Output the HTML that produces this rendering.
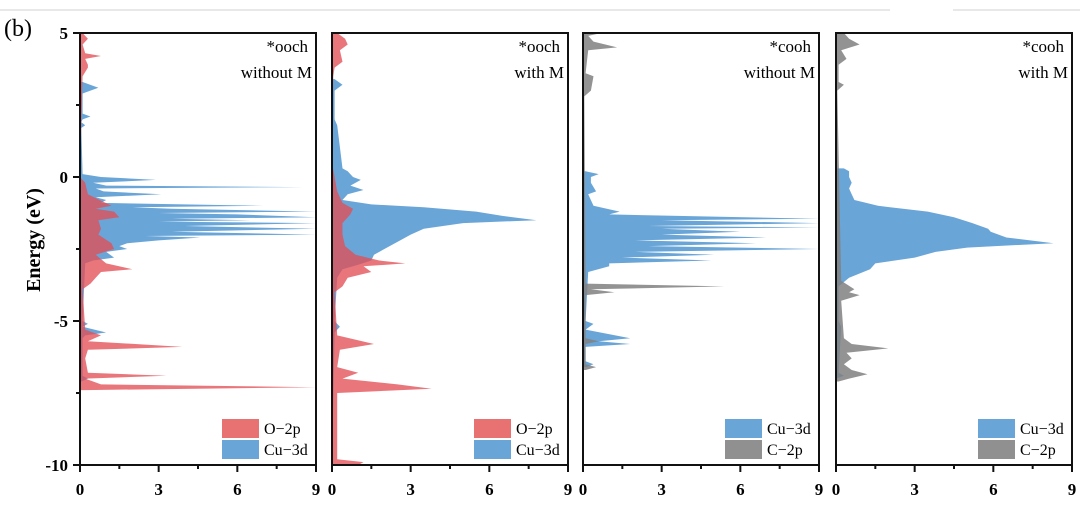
<!DOCTYPE html>
<html><head><meta charset="utf-8">
<style>
body{margin:0;background:#fff;width:1080px;height:516px;overflow:hidden}
svg{display:block;font-family:"Liberation Serif",serif}
</style></head>
<body>
<svg id="chart" width="1080" height="516" viewBox="0 0 1080 516">
<line x1="0" y1="10" x2="890" y2="10" stroke="#d0d0d0" stroke-width="1"/>
<line x1="953" y1="10" x2="1080" y2="10" stroke="#d0d0d0" stroke-width="1"/>
<text x="4" y="36" font-size="24">(b)</text>
<text transform="translate(40,240) rotate(-90)" text-anchor="middle" font-size="20" font-weight="bold">Energy (eV)</text>
<g id="plots"></g>
</svg>
<script>
// ---- data (energy in eV, DOS value) ----
const yTicks = [5, 0, -5, -10];
const xTicks = [0, 3, 6, 9];
const titles1 = ["*ooch", "*ooch", "*cooh", "*cooh"];
const titles2 = ["without M", "with M", "without M", "with M"];
const legendA = ["O\u22122p", "O\u22122p", "Cu\u22123d", "Cu\u22123d"];
const legendB = ["Cu\u22123d", "Cu\u22123d", "C\u22122p", "C\u22122p"];

const p1CuE = [3.3,3.1,2.9,2.2,2.1,2.0,1.9,1.8,1.7,0.1,0.0,-0.1,-0.2,-0.3,-0.35,-0.4,-0.5,-0.6,-0.7,-0.8,-0.9,-1.0,-1.05,-1.1,-1.2,-1.25,-1.3,-1.4,-1.45,-1.5,-1.55,-1.6,-1.7,-1.8,-1.9,-2.0,-2.05,-2.1,-2.2,-2.3,-2.4,-2.5,-2.6,-2.8,-2.9,-3.0,-5.0,-5.1,-5.2,-5.4,-5.5,-5.6,-6.9,-7.0,-7.1];
const p1CuV = [0.1,0.7,0.1,0.1,0.4,0.1,0.05,0.2,0.05,0.1,0.8,2.9,0.5,1.0,8.5,0.6,0.9,3.1,0.6,1.0,0.8,7.0,2.0,3.5,9.0,3.0,6.0,9.0,3.5,6.5,3.0,9.0,4.0,9.0,3.5,9.0,2.5,4.6,3.0,1.8,1.5,1.8,1.0,1.3,0.5,0.2,0.1,0.3,0.1,1.0,0.2,0.1,0.1,0.3,0.05];
const p1OE = [5.0,4.8,4.6,4.3,4.2,4.1,3.9,3.8,3.5,0.0,-0.2,-0.6,-1.0,-1.1,-1.2,-1.4,-1.5,-1.8,-2.0,-2.3,-2.5,-2.7,-3.0,-3.2,-3.3,-3.5,-3.7,-3.9,-5.3,-5.5,-5.7,-5.9,-6.0,-6.3,-6.8,-6.9,-7.0,-7.2,-7.3,-7.4];
const p1OV = [0.1,0.3,0.1,0.2,0.8,0.2,0.3,0.3,0.1,0.0,0.2,0.3,1.2,0.6,1.3,1.5,0.7,0.8,0.7,1.2,1.3,0.6,1.0,2.0,0.8,0.6,0.4,0.1,0.2,0.8,0.3,3.9,0.3,0.2,0.3,3.3,0.2,0.8,9.0,0.2];

const p2CuE = [3.4,3.2,3.0,2.0,1.8,0.3,0.2,0.0,-0.1,-0.3,-0.45,-0.6,-0.8,-0.95,-1.05,-1.2,-1.35,-1.5,-1.6,-1.8,-2.0,-2.2,-2.5,-2.7,-2.9,-3.05,-3.2,-3.5,-5.0,-5.2,-5.4,-9.9];
const p2CuV = [0.1,0.4,0.1,0.1,0.2,0.4,0.6,0.8,1.1,0.7,1.2,0.6,0.4,1.5,3.5,5.5,6.5,7.8,5.0,3.5,3.0,2.6,2.0,1.6,1.5,1.0,0.4,0.2,0.1,0.3,0.1,0.0];
const p2OE = [5.0,4.8,4.6,4.4,4.0,3.8,3.5,0.5,0.0,-0.5,-0.9,-1.1,-1.3,-1.6,-2.0,-2.4,-2.7,-2.9,-3.0,-3.1,-3.3,-3.5,-3.8,-4.0,-5.5,-5.8,-6.0,-6.6,-6.8,-7.0,-7.2,-7.35,-7.5,-9.8,-9.9,-10.0];
const p2OV = [0.2,0.5,0.6,0.3,0.4,0.1,0.05,0.0,0.1,0.2,0.4,0.8,0.7,0.4,0.4,0.5,0.9,1.8,2.8,1.2,1.5,0.6,0.4,0.1,0.2,1.6,0.3,0.2,1.0,0.4,2.5,3.8,0.2,0.2,1.2,1.0];

const p3CuE = [0.2,0.1,0.0,-0.2,-0.5,-0.6,-1.0,-1.2,-1.3,-1.45,-1.5,-1.6,-1.7,-1.75,-1.8,-1.9,-2.0,-2.1,-2.2,-2.3,-2.4,-2.5,-2.6,-2.7,-2.8,-2.9,-3.0,-3.1,-3.3,-5.0,-5.1,-5.3,-5.6,-5.7,-5.8,-5.9,-6.4,-6.5,-6.6];
const p3CuV = [0.1,0.6,0.3,0.3,0.5,0.2,0.4,1.4,1.0,9.0,3.0,9.0,2.5,9.0,3.0,6.0,3.0,7.0,2.0,6.6,2.5,9.0,2.0,5.0,1.5,4.9,1.0,1.0,0.2,0.1,0.4,0.1,1.8,0.6,1.8,0.1,0.1,0.4,0.1];
const p3CE = [5.0,4.9,4.7,4.5,4.4,3.6,3.5,3.0,2.8,-3.7,-3.8,-3.9,-4.0,-4.1,-5.6,-5.7,-5.8,-6.5,-6.6,-6.7];
const p3CV = [0.7,0.2,0.4,1.3,0.2,0.1,0.4,0.3,0.05,0.1,5.4,0.3,1.2,0.1,0.1,0.6,0.1,0.1,0.5,0.1];

const p4CuE = [0.3,0.2,0.0,-0.2,-0.4,-0.6,-0.8,-1.0,-1.2,-1.4,-1.6,-1.8,-1.9,-2.1,-2.3,-2.45,-2.6,-2.8,-3.0,-3.2,-3.5,-3.8,-5.0,-5.2,-6.8,-6.9,-7.0];
const p4CuV = [0.3,0.5,0.5,0.6,0.5,0.6,0.7,1.6,3.5,4.5,5.2,5.8,5.9,6.5,8.3,5.0,3.8,3.0,1.5,1.3,0.5,0.1,0.1,0.2,0.1,0.3,0.0];
const p4CE = [5.0,4.8,4.6,4.4,4.1,3.9,3.3,3.2,3.0,-3.6,-3.9,-4.0,-4.1,-4.3,-5.6,-5.8,-5.95,-6.1,-6.3,-6.5,-6.7,-6.85,-7.0,-7.1];
const p4CV = [0.3,0.5,0.9,0.2,0.4,0.1,0.1,0.3,0.05,0.2,0.7,0.5,0.9,0.2,0.3,0.6,2.0,0.4,0.6,0.3,0.6,1.2,0.5,0.1];

const panelsBack = [[p1CuE,p1CuV],[p2CuE,p2CuV],[p3CuE,p3CuV],[p4CuE,p4CuV]];
const panelsFront = [[p1OE,p1OV],[p2OE,p2OV],[p3CE,p3CV],[p4CE,p4CV]];

// ---- layout ----
const NS = "http://www.w3.org/2000/svg";
const panelX = [80, 332, 583, 836];
const pw = 236, yTop = 33, yBot = 465;
const yScale = e => yTop + (5 - e) / 15 * (yBot - yTop);
const g = document.getElementById("plots");
function mk(tag, attrs, parent){ const el=document.createElementNS(NS,tag); for(const k in attrs) el.setAttribute(k,attrs[k]); (parent||g).appendChild(el); return el; }

const COL = {red:"rgba(226,80,86,0.78)", blue:"#6aa5d8", gray:"rgba(128,128,128,0.85)"};
const backCol = [COL.blue,COL.blue,COL.blue,COL.blue];
const frontCol = [COL.red,COL.red,COL.gray,COL.gray];
const legCol = [["#e87272","#6aa5d8"],["#e87272","#6aa5d8"],["#6aa5d8","#909090"],["#6aa5d8","#909090"]];

function area(E,V,x0,fill,name,parent){
  const xs = v => x0 + Math.min(v,9)/9*pw;
  let d = "M"+x0+","+yScale(E[0]);
  for(let i=0;i<E.length;i++) d += " L"+xs(V[i]).toFixed(1)+","+yScale(E[i]).toFixed(1);
  d += " L"+x0+","+yScale(E[E.length-1])+" Z";
  const p = mk("path",{d:d,fill:fill},parent);
  
  
}

for(let k=0;k<4;k++){
  const x0 = panelX[k];
  const clip = mk("clipPath",{id:"c"+k});
  mk("rect",{x:x0,y:yTop,width:pw,height:yBot-yTop},clip);
  const gg = mk("g",{"clip-path":"url(#c"+k+")"});
  area(panelsBack[k][0],panelsBack[k][1],x0,backCol[k],"series-back-area",gg);
  area(panelsFront[k][0],panelsFront[k][1],x0,frontCol[k],"series-front-area",gg);
  const fr = mk("rect",{x:x0,y:yTop,width:pw,height:yBot-yTop,fill:"none",stroke:"#111","stroke-width":2});
  
  
  for(let i=0;i<=6;i++){
    const xx = x0 + i*1.5/9*pw;
    mk("line",{x1:xx,y1:yBot,x2:xx,y2:yBot+(i%2?4:7),stroke:"#111","stroke-width":2});
  }
  xTicks.forEach(t=>{
    const tx = mk("text",{x:x0+t/9*pw,y:yBot+30,"text-anchor":"middle","font-size":17,"font-weight":"bold"});
    tx.textContent = t;
    
    
  });
  const t1 = mk("text",{x:x0+pw-8,y:yTop+19,"text-anchor":"end","font-size":17});
  t1.textContent = titles1[k];
  
  
  const t2 = mk("text",{x:x0+pw-4,y:yTop+45,"text-anchor":"end","font-size":17});
  t2.textContent = titles2[k];
  
  
  const lx = x0+142;
  [[legendA[k],0],[legendB[k],1]].forEach(([lab,j])=>{
    const r = mk("rect",{x:lx,y:419+j*21,width:37,height:19,fill:legCol[k][j]});
    
    
    const lt = mk("text",{x:lx+42,y:434+j*21,"font-size":16});
    lt.textContent = lab;
    
    
  });
}
for(let e=5;e>=-10;e-=2.5){
  const yy = yScale(e);
  mk("line",{x1:80,y1:yy,x2:(e%5===0)?73:76,y2:yy,stroke:"#111","stroke-width":2});
}
yTicks.forEach(e=>{
  const t = mk("text",{x:68,y:yScale(e)+6,"text-anchor":"end","font-size":17,"font-weight":"bold"});
  t.textContent = e;
  
  
});
</script>
</body></html>
